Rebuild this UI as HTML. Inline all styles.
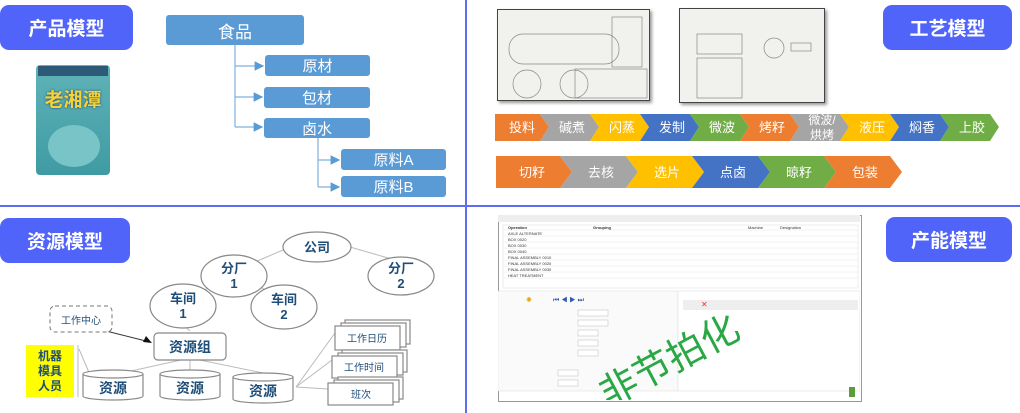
<!DOCTYPE html>
<html><head><meta charset="utf-8"><style>
body{margin:0;width:1020px;height:413px;background:#fff;position:relative;overflow:hidden;font-family:"Liberation Sans","Noto Sans CJK SC",sans-serif}
.a{position:absolute}
.lab{position:absolute;background:#5064fa;color:#fff;font-weight:bold;font-size:19px;border-radius:9px;display:flex;align-items:center;justify-content:center}
.bx{position:absolute;background:#5b9bd5;color:#fff;font-size:15px;border-radius:3px;display:flex;align-items:center;justify-content:center}
</style></head><body>
<div class="a" style="left:0;top:205px;width:1020px;height:2px;background:#5b6cf5"></div>
<div class="a" style="left:465px;top:0;width:2px;height:413px;background:#5b6cf5"></div>

<div class="lab" style="left:0;top:5px;width:133px;height:45px">产品模型</div>
<div class="lab" style="left:883px;top:5px;width:129px;height:45px">工艺模型</div>
<div class="lab" style="left:0;top:218px;width:130px;height:45px">资源模型</div>
<div class="lab" style="left:886px;top:217px;width:126px;height:45px">产能模型</div>

<!-- package -->
<div class="a" style="left:36px;top:65px;width:74px;height:110px;background:linear-gradient(#5fb3b8,#3f9ba3);border-radius:4px"></div>
<div class="a" style="left:38px;top:66px;width:70px;height:10px;background:#2e5a7a"></div>
<div class="a" style="left:40px;top:90px;width:66px;height:22px;color:#f3d23a;font-weight:bold;font-size:19px;text-align:center;line-height:22px;text-shadow:0 0 2px #1b3d6b">老湘潭</div>
<div class="a" style="left:48px;top:125px;width:52px;height:42px;border-radius:50%;background:#79c4c7"></div>

<svg class="a" style="left:0;top:0" width="465" height="205">
<defs><marker id="ar" markerWidth="8" markerHeight="8" refX="7" refY="4" orient="auto"><path d="M0,0L8,4L0,8z" fill="#5b9bd5"/></marker></defs>
<g stroke="#7fb0de" stroke-width="1.2" fill="none">
<path d="M235 45V127"/><path d="M235 66H263" marker-end="url(#ar)"/><path d="M235 97H262" marker-end="url(#ar)"/><path d="M235 127H262" marker-end="url(#ar)"/>
<path d="M318 138V187"/><path d="M318 160H339" marker-end="url(#ar)"/><path d="M318 187H339" marker-end="url(#ar)"/>
</g></svg>
<div class="bx" style="left:166px;top:15px;width:138px;height:30px;font-size:17px">食品</div>
<div class="bx" style="left:265px;top:55px;width:105px;height:21px">原材</div>
<div class="bx" style="left:264px;top:87px;width:106px;height:21px">包材</div>
<div class="bx" style="left:264px;top:118px;width:106px;height:20px">卤水</div>
<div class="bx" style="left:341px;top:149px;width:105px;height:21px">原料A</div>
<div class="bx" style="left:341px;top:176px;width:105px;height:21px">原料B</div>

<!-- drawings -->
<div class="a" style="left:497px;top:9px;width:151px;height:90px;background:#f1f1ee;border:1px solid #444;box-shadow:2px 2px 3px #999"></div>
<svg class="a" style="left:497px;top:9px" width="151" height="90"><g stroke="#888" fill="none" stroke-width=".7"><rect x="12" y="25" width="110" height="30" rx="14"/><circle cx="30" cy="75" r="14"/><circle cx="77" cy="75" r="14"/><rect x="78" y="60" width="72" height="29"/><rect x="115" y="8" width="30" height="50"/></g></svg>
<div class="a" style="left:679px;top:8px;width:144px;height:93px;background:#f1f1ee;border:1px solid #444;box-shadow:2px 2px 3px #999"></div>
<svg class="a" style="left:679px;top:8px" width="144" height="93"><g stroke="#888" fill="none" stroke-width=".7"><rect x="18" y="26" width="45" height="20"/><rect x="18" y="50" width="45" height="40"/><circle cx="95" cy="40" r="10"/><rect x="112" y="35" width="20" height="8"/></g></svg>

<svg class="a" style="left:490px;top:105px" width="530" height="100" font-family="Liberation Sans,Noto Sans CJK SC,sans-serif" font-size="13" fill="#fff" text-anchor="middle">
<polygon points="5,9 50,9 59,22 50,36 5,36" fill="#ed7d31"/><text x="32" y="27">投料</text>
<polygon points="50,9 100,9 109,22 100,36 50,36 59,22" fill="#a5a5a5"/><text x="82" y="27">碱煮</text>
<polygon points="100,9 150,9 159,22 150,36 100,36 109,22" fill="#ffc000"/><text x="132" y="27">闪蒸</text>
<polygon points="150,9 200,9 209,22 200,36 150,36 159,22" fill="#4472c4"/><text x="182" y="27">发制</text>
<polygon points="200,9 250,9 259,22 250,36 200,36 209,22" fill="#70ad47"/><text x="232" y="27">微波</text>
<polygon points="250,9 300,9 309,22 300,36 250,36 259,22" fill="#ed7d31"/><text x="282" y="27">烤籽</text>
<polygon points="300,9 350,9 359,22 350,36 300,36 309,22" fill="#a5a5a5"/><text x="332" y="19" font-size="12">微波/</text><text x="332" y="34" font-size="12">烘烤</text>
<polygon points="350,9 400,9 409,22 400,36 350,36 359,22" fill="#ffc000"/><text x="382" y="27">液压</text>
<polygon points="400,9 450,9 459,22 450,36 400,36 409,22" fill="#4472c4"/><text x="432" y="27">焖香</text>
<polygon points="450,9 500,9 509,22 500,36 450,36 459,22" fill="#70ad47"/><text x="482" y="27">上胶</text>
<polygon points="6,51 70,51 82,67 70,83 6,83" fill="#ed7d31"/><text x="42" y="72">切籽</text>
<polygon points="70,51 136,51 148,67 136,83 70,83 82,67" fill="#a5a5a5"/><text x="111" y="72">去核</text>
<polygon points="136,51 202,51 214,67 202,83 136,83 148,67" fill="#ffc000"/><text x="177" y="72">选片</text>
<polygon points="202,51 268,51 280,67 268,83 202,83 214,67" fill="#4472c4"/><text x="243" y="72">点卤</text>
<polygon points="268,51 334,51 346,67 334,83 268,83 280,67" fill="#70ad47"/><text x="309" y="72">晾籽</text>
<polygon points="334,51 400,51 412,67 400,83 334,83 346,67" fill="#ed7d31"/><text x="375" y="72">包装</text>
</svg>

<!-- resource model -->
<svg class="a" style="left:0;top:207px" width="465" height="206" font-family="Liberation Sans,Noto Sans CJK SC,sans-serif" font-weight="bold" fill="#1f4e79" text-anchor="middle">
<g stroke="#bbb" stroke-width="1" fill="none">
<path d="M290 40L255 55"/><path d="M350 40L395 53"/><path d="M215 76L195 90"/><path d="M255 76L275 90"/>
<path d="M183 118L190 124"/><path d="M190 151L113 168"/><path d="M190 151L190 163"/><path d="M190 151L263 166"/>
<path d="M79 142L90 168"/><path d="M296 180L335 126"/><path d="M296 180L332 153"/><path d="M296 180L328 182"/>
</g>
<path d="M78 117L150 135" stroke="#333" stroke-width="1"/><path d="M152 136l-9 -1 3 -6z" fill="#111"/>
<g stroke="#888" stroke-width="1.2" fill="#fff">
<ellipse cx="317" cy="40" rx="34" ry="15"/>
<ellipse cx="234" cy="69" rx="33" ry="21"/>
<ellipse cx="401" cy="69" rx="33" ry="19"/>
<ellipse cx="183" cy="99" rx="33" ry="22"/>
<ellipse cx="284" cy="100" rx="33" ry="22"/>
<rect x="154" y="126" width="72" height="27" rx="4"/>
</g>
<rect x="50" y="99" width="62" height="26" rx="5" fill="#fff" stroke="#777" stroke-dasharray="4,3"/>
<text x="317" y="45" font-size="13">公司</text>
<text x="234" y="66" font-size="13">分厂</text><text x="234" y="81" font-size="13">1</text>
<text x="401" y="66" font-size="13">分厂</text><text x="401" y="81" font-size="13">2</text>
<text x="183" y="96" font-size="13">车间</text><text x="183" y="111" font-size="13">1</text>
<text x="284" y="97" font-size="13">车间</text><text x="284" y="112" font-size="13">2</text>
<text x="190" y="145" font-size="14">资源组</text>
<text x="81" y="117" font-size="10" font-weight="normal">工作中心</text>
<rect x="26" y="138" width="48" height="52" fill="#ffff00"/>
<path d="M78 138V190" stroke="#bbb"/>
<text x="50" y="153" font-size="12">机器</text><text x="50" y="168" font-size="12">模具</text><text x="50" y="183" font-size="12">人员</text>
<g stroke="#888" stroke-width="1.2" fill="#fff">
<path d="M83 167V189A30 4 0 0 0 143 189V167"/><ellipse cx="113" cy="167" rx="30" ry="4"/>
<path d="M160 167V189A30 4 0 0 0 220 189V167"/><ellipse cx="190" cy="167" rx="30" ry="4"/>
<path d="M233 170V192A30 4 0 0 0 293 192V170"/><ellipse cx="263" cy="170" rx="30" ry="4"/>
<rect x="345" y="113" width="65" height="24"/><rect x="341" y="116" width="65" height="24"/><rect x="335" y="119" width="65" height="24"/>
<rect x="342" y="143" width="65" height="22"/><rect x="338" y="146" width="65" height="22"/><rect x="332" y="149" width="65" height="22"/>
<rect x="338" y="170" width="65" height="22"/><rect x="334" y="173" width="65" height="22"/><rect x="328" y="176" width="65" height="22"/>
</g>
<text x="113" y="186" font-size="14">资源</text><text x="190" y="186" font-size="14">资源</text><text x="263" y="189" font-size="14">资源</text>
<text x="367" y="135" font-size="10" font-weight="normal">工作日历</text>
<text x="364" y="164" font-size="10" font-weight="normal">工作时间</text>
<text x="361" y="191" font-size="10" font-weight="normal">班次</text>
</svg>

<!-- capacity screenshot -->
<div class="a" style="left:498px;top:215px;width:362px;height:185px;background:#fff;border:1px solid #999"></div>
<svg class="a" style="left:498px;top:215px" width="362" height="185" font-family="Liberation Sans,sans-serif" font-size="4" fill="#333">
<rect x="0" y="0" width="362" height="7" fill="#eee"/>
<rect x="5" y="10" width="355" height="63" fill="#fff" stroke="#ddd" stroke-width=".5"/>
<g stroke="#e6e6e6" stroke-width=".5"><path d="M5 15H360M5 21H360M5 27H360M5 33H360M5 39H360M5 45H360M5 51H360M5 57H360M5 63H360"/></g>
<text x="10" y="14" font-weight="bold">Operation</text><text x="95" y="14" font-weight="bold">Grouping</text><text x="250" y="14">Machine</text><text x="282" y="14">Designation</text>
<text x="10" y="20">AXLE ALTERNATE</text><text x="10" y="26">BOX 0020</text><text x="10" y="32">BOX 0030</text><text x="10" y="38">BOX 0040</text><text x="10" y="44">FINAL ASSEMBLY 0010</text><text x="10" y="50">FINAL ASSEMBLY 0020</text><text x="10" y="56">FINAL ASSEMBLY 0030</text><text x="10" y="62">HEAT TREATMENT</text>
<rect x="0" y="76" width="180" height="100" fill="#fafafa" stroke="#ddd" stroke-width=".5"/>
<rect x="180" y="76" width="182" height="100" fill="#fff" stroke="#ddd" stroke-width=".5"/>
<rect x="185" y="85" width="175" height="10" fill="#eee"/>
<text x="28" y="87" fill="#e8a000" font-size="7">✺</text><text x="55" y="87" fill="#2f5aa8" font-size="7">⏮ ◀ ▶ ⏭</text>
<text x="203" y="92" fill="#e33" font-size="8">✕</text>
<g fill="#fff" stroke="#bbb" stroke-width=".5"><rect x="80" y="95" width="30" height="6"/><rect x="80" y="105" width="30" height="6"/><rect x="80" y="115" width="20" height="6"/><rect x="80" y="125" width="20" height="6"/><rect x="80" y="135" width="20" height="6"/><rect x="60" y="155" width="20" height="6"/><rect x="60" y="165" width="20" height="6"/></g>
<rect x="351" y="172" width="6" height="10" fill="#5a9e3a"/>
<text x="90" y="168" fill="#2aa845" font-size="38" transform="rotate(-28 150 140)" font-family="Noto Sans CJK SC,sans-serif">非节拍化</text>
</svg>
</body></html>
